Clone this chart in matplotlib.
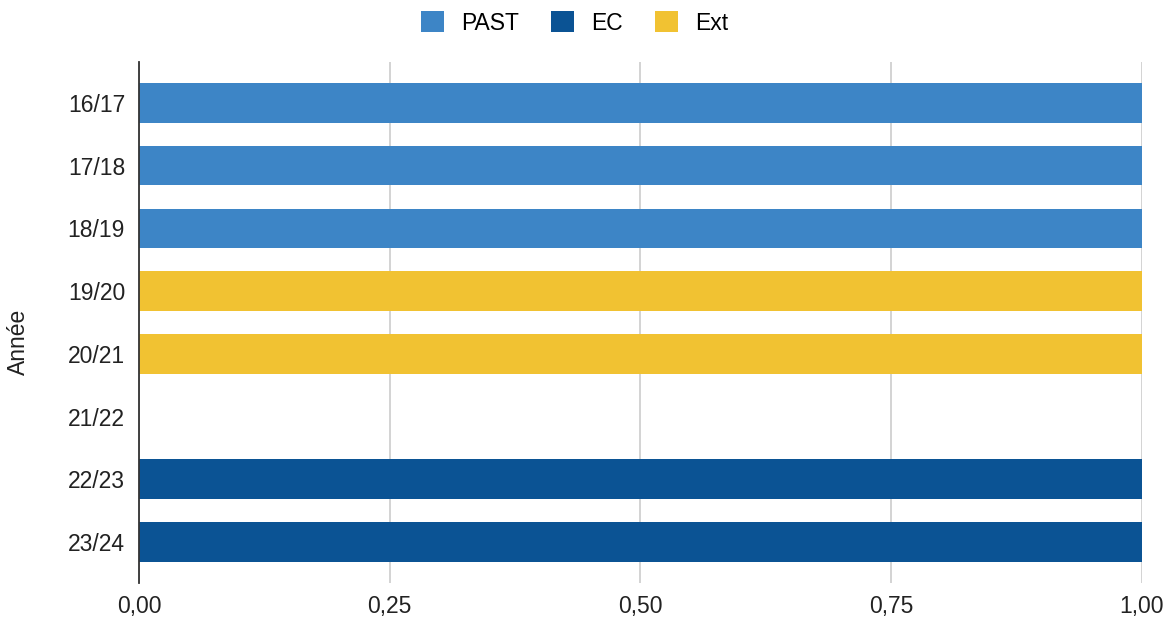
import matplotlib
matplotlib.use('Agg')
import matplotlib.pyplot as plt
import numpy as np

# data
annees = ['16/17', '17/18', '18/19', '19/20', '20/21', '21/22', '22/23', '23/24']
past = [1, 1, 1, 0, 0, 0, 0, 0]
ec = [0, 0, 0, 0, 0, 0, 1, 1]
ext = [0, 0, 0, 1, 1, 0, 0, 0]
xticks = [0, 0.25, 0.5, 0.75, 1.0]

plt.rcParams['font.family'] = ['Liberation Sans', 'DejaVu Sans']
fs = 16.5

fig = plt.figure(figsize=(11.75, 6.21), dpi=100)
ax = fig.add_axes([0.1183, 0.0612, 0.8536, 0.839])

y = np.arange(len(annees))
h = 0.63
past_a = np.array(past)
ec_a = np.array(ec)
ext_a = np.array(ext)
ax.barh(y, past_a, height=h, color='#3d85c6', label='PAST', zorder=3)
ax.barh(y, ec_a, left=past_a, height=h, color='#0b5394', label='EC', zorder=3)
ax.barh(y, ext_a, left=past_a + ec_a, height=h, color='#f1c232', label='Ext', zorder=3)

ax.set_ylim(len(annees) - 1 + 0.655, -0.655)
ax.set_xlim(0, 1.0)
ax.set_yticks(y)
ax.set_yticklabels(annees, fontsize=fs, color='#222222')
ax.set_xticks(xticks)
ax.set_xticklabels([f'{v:.2f}'.replace('.', ',') for v in xticks], fontsize=fs, color='#222222')
ax.tick_params(axis='both', length=0)
ax.tick_params(axis='y', pad=10)
ax.tick_params(axis='x', pad=9)

ax.grid(axis='x', color='#cccccc', linewidth=1.2, zorder=0)
ax.set_axisbelow(True)
for s in ['top', 'right', 'bottom']:
    ax.spines[s].set_visible(False)
ax.spines['left'].set_color('#333333')
ax.spines['left'].set_linewidth(1.3)
ax.spines['left'].set_zorder(5)

fig.text(18 / 1175, 1 - 342 / 621, 'Année', rotation=90, ha='center', va='center',
         fontsize=fs, color='#222222')

leg = fig.legend(loc='center', bbox_to_anchor=(0.489, 0.963), ncol=3, frameon=False,
                 fontsize=fs, handlelength=1.0, handleheight=1.0, columnspacing=1.4,
                 handletextpad=0.75, borderpad=0, borderaxespad=0)

fig.savefig('out.png', dpi=100)
